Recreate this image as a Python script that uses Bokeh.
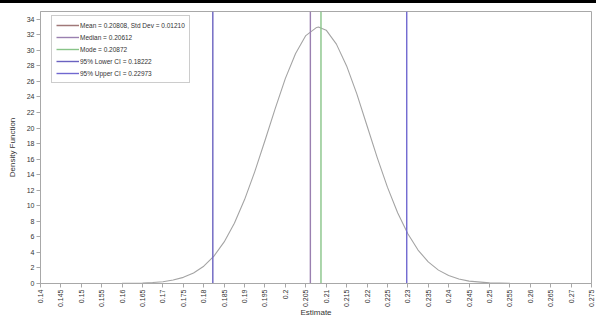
import math
from bokeh.plotting import figure
from bokeh.models import FixedTicker, Legend, LegendItem, Div
from bokeh.layouts import column
from bokeh.embed import file_html
from bokeh.resources import INLINE

# ---- data ----
curve_x = [0.1475, 0.155, 0.16, 0.165, 0.1675, 0.17, 0.1725, 0.175, 0.1775, 0.18,
           0.1825, 0.185, 0.1875, 0.19, 0.1925, 0.195, 0.1975, 0.2, 0.2025, 0.205,
           0.2075, 0.2081, 0.21, 0.2125, 0.215, 0.2175, 0.22, 0.2225, 0.225, 0.2275,
           0.23, 0.2325, 0.235, 0.2375, 0.24, 0.2425, 0.245, 0.25, 0.255, 0.26, 0.265]
curve_y = [0.0, 0.0, 0.01, 0.06, 0.12, 0.23, 0.44, 0.79, 1.35, 2.23,
           3.53, 5.35, 7.76, 10.8, 14.4, 18.4, 22.5, 26.4, 29.6, 31.9,
           32.9, 33.0, 32.6, 30.8, 28.0, 24.4, 20.3, 16.2, 12.4, 9.1,
           6.4, 4.3, 2.78, 1.72, 1.02, 0.58, 0.31, 0.08, 0.02, 0.005, 0.0]

mean_val = 0.20808
std_dev = 0.01210
median_val = 0.20612
mode_val = 0.20872
lower_ci = 0.18222
upper_ci = 0.22973

x_ticks = [0.14, 0.145, 0.15, 0.155, 0.16, 0.165, 0.17, 0.175, 0.18, 0.185, 0.19,
           0.195, 0.2, 0.205, 0.21, 0.215, 0.22, 0.225, 0.23, 0.235, 0.24, 0.245,
           0.25, 0.255, 0.26, 0.265, 0.27, 0.275]
x_tick_labels = ["0.14", "0.145", "0.15", "0.155", "0.16", "0.165", "0.17", "0.175",
                 "0.18", "0.185", "0.19", "0.195", "0.2", "0.205", "0.21", "0.215",
                 "0.22", "0.225", "0.23", "0.235", "0.24", "0.245", "0.25", "0.255",
                 "0.26", "0.265", "0.27", "0.275"]
y_ticks = [0, 2, 4, 6, 8, 10, 12, 14, 16, 18, 20, 22, 24, 26, 28, 30, 32, 34]
y_max = 35

FONT = "Liberation Sans"
AXIS_GREY = "#a8a8a8"

p = figure(width=596, height=318, x_range=(0.14, 0.275), y_range=(0, y_max),
           output_backend="svg", toolbar_location=None,
           min_border_left=40, min_border_right=5, min_border_top=8,
           min_border_bottom=38)
p.xgrid.visible = False
p.ygrid.visible = False
p.outline_line_color = AXIS_GREY
p.background_fill_color = "white"
p.border_fill_color = "white"

p.line(curve_x, curve_y, line_color="#a4a4a4", line_width=1.1)

# mean is only shown in the legend (zero-length line keeps its legend sample)
r_mean = p.line([mean_val, mean_val], [0, 0], line_color="#a07878", line_width=1.5)
r_median = p.segment(x0=[median_val], y0=[0], x1=[median_val], y1=[y_max],
                     line_color="#9a80b0", line_width=1.4)
r_mode = p.segment(x0=[mode_val], y0=[0], x1=[mode_val], y1=[y_max],
                   line_color="#88c488", line_width=1.4)
r_low = p.segment(x0=[lower_ci], y0=[0], x1=[lower_ci], y1=[y_max],
                  line_color="#6a62c0", line_width=1.4)
r_up = p.segment(x0=[upper_ci], y0=[0], x1=[upper_ci], y1=[y_max],
                 line_color="#7068d0", line_width=1.4)

items = [
    LegendItem(label="Mean = %.5f, Std Dev = %.5f" % (mean_val, std_dev), renderers=[r_mean]),
    LegendItem(label="Median = %.5f" % median_val, renderers=[r_median]),
    LegendItem(label="Mode = %.5f" % mode_val, renderers=[r_mode]),
    LegendItem(label="95%% Lower CI = %.5f" % lower_ci, renderers=[r_low]),
    LegendItem(label="95%% Upper CI = %.5f" % upper_ci, renderers=[r_up]),
]
legend = Legend(items=items, location=(11, 200))
legend.label_text_font = FONT
legend.label_text_font_size = "6.5px"
legend.label_text_color = "#333333"
legend.glyph_width = 23
legend.glyph_height = 10
legend.label_height = 10
legend.label_standoff = 1
legend.spacing = 2
legend.padding = 4
legend.margin = 0
legend.border_line_color = "#999999"
legend.border_line_width = 1
legend.background_fill_alpha = 1
p.add_layout(legend, "center")

p.xaxis.ticker = FixedTicker(ticks=x_ticks)
p.xaxis.major_label_overrides = {t: l for t, l in zip(x_ticks, x_tick_labels)}
p.xaxis.major_label_orientation = math.pi / 2
p.yaxis.ticker = FixedTicker(ticks=y_ticks)

for ax in (p.xaxis[0], p.yaxis[0]):
    ax.axis_line_color = AXIS_GREY
    ax.major_tick_line_color = AXIS_GREY
    ax.major_tick_out = 4
    ax.major_tick_in = 0
    ax.minor_tick_line_color = None
    ax.major_label_text_font = FONT
    ax.major_label_text_font_size = "7px"
    ax.major_label_text_color = "#333333"
    ax.major_label_standoff = 2
    ax.axis_label_text_font = FONT
    ax.axis_label_text_font_size = "8px"
    ax.axis_label_text_font_style = "normal"
    ax.axis_label_text_color = "#333333"

p.xaxis.axis_label = "Estimate"
p.yaxis.axis_label = "Density Function"
p.xaxis.axis_label_standoff = -2
p.yaxis.axis_label_standoff = 7

bar = Div(text="", width=596, height=3, margin=(0, 0, 0, 0),
          styles={"background-color": "black"})
layout = column(bar, p, spacing=0)

open("out.html", "w").write(file_html(layout, INLINE))
